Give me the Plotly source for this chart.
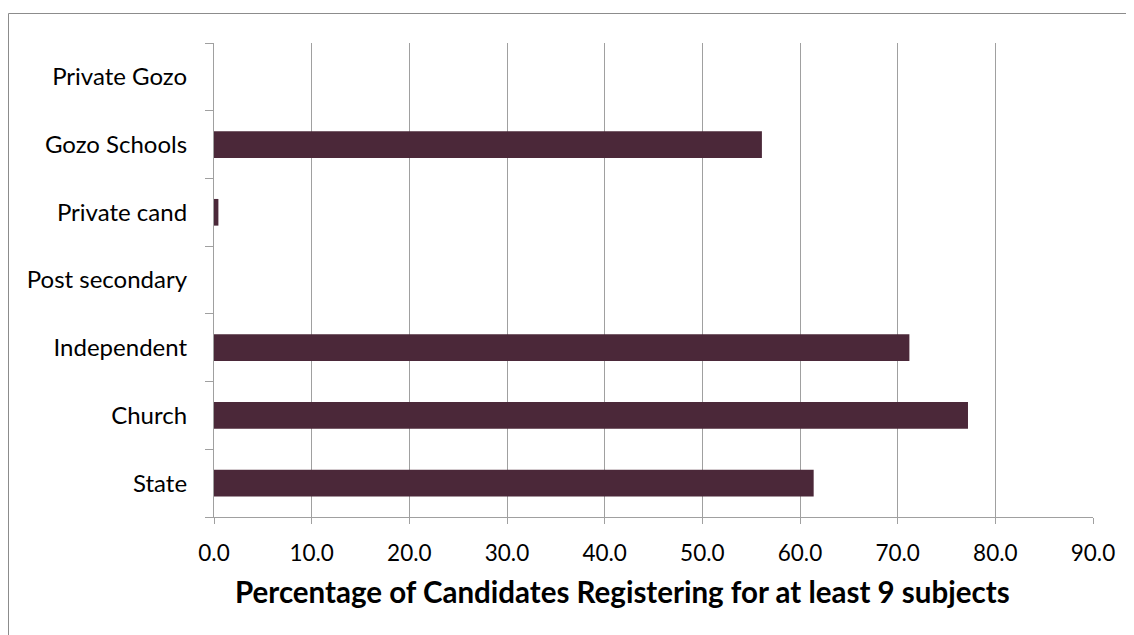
import plotly.graph_objects as go

categories = ["State", "Church", "Independent", "Post secondary", "Private cand", "Gozo Schools", "Private Gozo"]
values = [61.4, 77.2, 71.2, 0.0, 0.45, 56.1, 0.0]
x_ticks = [0, 10, 20, 30, 40, 50, 60, 70, 80, 90]
x_tick_labels = ["%.1f" % t for t in x_ticks]
x_title = "Percentage of Candidates Registering for at least 9 subjects"

FONT = "Lato"
GRID = "#A0A0A0"

# page is rendered with an ~8px body offset; margins compensate for it
L, R, T, B = 206, 49, 35, 126
PW, PH = 1134 - L - R, 635 - T - B

fig = go.Figure()
fig.add_trace(go.Bar(
    y=categories, x=values, orientation="h",
    marker=dict(color="#4B2839", line=dict(width=0)),
    hoverinfo="x+y",
))

fig.update_layout(
    width=1134, height=635,
    margin=dict(l=L, r=R, t=T, b=B, autoexpand=False),
    paper_bgcolor="white", plot_bgcolor="white",
    bargap=0.606,
    showlegend=False,
    font=dict(family=FONT, color="black", size=22),
)
fig.update_xaxes(
    range=[0, 90], tickvals=x_ticks, ticktext=x_tick_labels,
    showgrid=True, gridcolor=GRID, gridwidth=1.2,
    showline=True, linecolor=GRID, linewidth=1.2,
    ticks="outside", ticklen=6, tickcolor=GRID,
    tickfont=dict(family=FONT, size=22.5, color="black"),
    ticklabelstandoff=10,
    zeroline=False, fixedrange=True,
)
fig.update_yaxes(
    type="category", categoryorder="array", categoryarray=categories,
    range=[-0.5, len(categories) - 0.5],
    showgrid=False, showline=True, linecolor=GRID, linewidth=1.2,
    ticks="outside", ticklen=8, tickcolor=GRID, tickson="boundaries",
    tickfont=dict(family=FONT, size=24, color="black"),
    ticklabelstandoff=21,
    fixedrange=True,
)
fig.add_annotation(
    text="<b>" + x_title + "</b>", xref="paper", yref="paper",
    x=0.4653, y=-0.158, xanchor="center", yanchor="middle",
    showarrow=False, font=dict(family=FONT, size=29.5, color="black"),
)
# outer chart border (top and left visible; right/bottom run off the image)
bx = (0.5 - L) / PW
by = (PH + T - 5.5) / PH
fig.add_shape(type="line", xref="paper", yref="paper",
              x0=bx, x1=1.2, y0=by, y1=by,
              line=dict(color="#8C8C8C", width=1))
fig.add_shape(type="line", xref="paper", yref="paper",
              x0=bx, x1=bx, y0=by, y1=-0.4,
              line=dict(color="#8C8C8C", width=1))

fig.write_html("out.html")
